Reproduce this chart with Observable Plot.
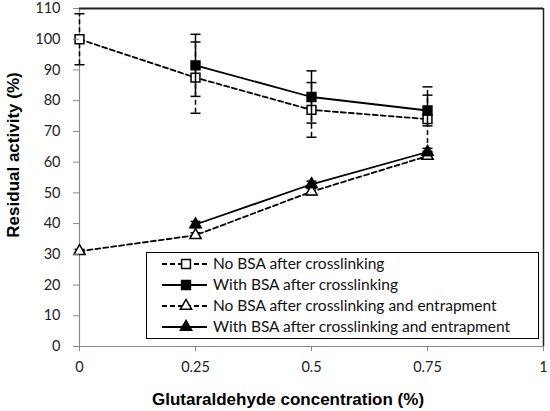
<!DOCTYPE html>
<html>
<head>
<meta charset="utf-8">
<script src="https://cdn.jsdelivr.net/npm/d3@7"></script>
<script src="https://cdn.jsdelivr.net/npm/@observablehq/plot@0.6"></script>
<style>
  body { margin: 0; background: white; }
  #wrap { position: relative; width: 550px; height: 411px; font-family: Lato, "Liberation Sans", sans-serif; }
  .title { position: absolute; font-family: "Liberation Sans", Arial, sans-serif; font-weight: bold; font-size: 17px; line-height: 1; color: #000; white-space: nowrap; }
  #legend { position: absolute; left: 146px; top: 252px; width: 391px; height: 85px; border: 1.5px solid #000; background: white; }
</style>
</head>
<body>
<div id="wrap">
  <div id="chart"></div>
  <div class="title" id="xtitle" style="left:152px; top:391px;">Glutaraldehyde concentration (%)</div>
  <div class="title" id="ytitle" style="left:13px; top:155px; transform: translate(-50%,-50%) rotate(-90deg);">Residual activity (%)</div>
  <svg id="legend"></svg>
</div>
<script>
// Data
const conc = [0, 0.25, 0.5, 0.75];
const noBsaCross = [100, 87.5, 77.0, 74.0];
const noBsaCrossErr = [8.3, 11.6, 8.9, 10.5];
const withBsaCross = [null, 91.5, 81.2, 76.8];
const withBsaCrossErr = [null, 10.1, 8.5, 5.0];
const noBsaEntrap = [31.0, 36.2, 50.4, 62.0];
const noBsaEntrapErr = [0.6, 0.8, 1.0, 1.0];
const withBsaEntrap = [null, 39.7, 52.8, 63.3];
const withBsaEntrapErr = [null, 1.0, 1.0, 1.2];
const yTicks = [0, 10, 20, 30, 40, 50, 60, 70, 80, 90, 100, 110];
const xTicks = [0, 0.25, 0.5, 0.75, 1];

const series = [
  {name: "No BSA after crosslinking", values: noBsaCross, err: noBsaCrossErr, symbol: "square", filled: false, dash: "5,3"},
  {name: "With BSA after crosslinking", values: withBsaCross, err: withBsaCrossErr, symbol: "square", filled: true, dash: null},
  {name: "No BSA after crosslinking and entrapment", values: noBsaEntrap, err: noBsaEntrapErr, symbol: "triangle", filled: false, dash: "5,3"},
  {name: "With BSA after crosslinking and entrapment", values: withBsaEntrap, err: withBsaEntrapErr, symbol: "triangle", filled: true, dash: null}
];

// long table
const rows = series.flatMap(s => conc.map((c, i) => ({
  series: s.name, x: c, y: s.values[i], e: s.err[i], s
})).filter(d => d.y != null));

// small horizontal cap for error bars
const cap = {draw(ctx, size) { const w = 5; ctx.moveTo(-w, 0); ctx.lineTo(w, 0); }};

const marks = [];
// axis lines and frame
marks.push(Plot.ruleX([0], {stroke: "#8a8a8a", strokeWidth: 1.2}));
marks.push(Plot.ruleY([0], {stroke: "#8a8a8a", strokeWidth: 1.2}));
marks.push(Plot.ruleY([110], {stroke: "#222", strokeWidth: 2.2}));
marks.push(Plot.ruleX([1], {stroke: "#222", strokeWidth: 1.5}));

for (const s of series) {
  const d = rows.filter(r => r.series === s.name);
  marks.push(Plot.ruleX(d, {x: "x", y1: r => r.y - r.e, y2: r => r.y + r.e, stroke: "#000", strokeWidth: 1.5, strokeDasharray: s.dash}));
  marks.push(Plot.dot(d, {x: "x", y: r => r.y - r.e, symbol: cap, stroke: "#000", strokeWidth: 1.5}));
  marks.push(Plot.dot(d, {x: "x", y: r => r.y + r.e, symbol: cap, stroke: "#000", strokeWidth: 1.5}));
  marks.push(Plot.line(d, {x: "x", y: "y", stroke: "#000", strokeWidth: 1.8, strokeDasharray: s.dash}));
  marks.push(Plot.dot(d, {x: "x", y: "y", symbol: s.symbol, r: s.symbol === "square" ? 5 : 4.2, stroke: "#000", strokeWidth: 1.5, fill: s.filled ? "#000" : "#fff"}));
}

marks.push(Plot.axisY({ticks: yTicks, tickSize: 6, tickPadding: 13, stroke: "#8a8a8a", fill: "#222", fontSize: 14.5, label: null}));
marks.push(Plot.axisX({ticks: xTicks, tickSize: 5, tickPadding: 10, stroke: "#8a8a8a", fill: "#222", fontSize: 14.5, label: null, tickFormat: d => String(d)}));

const chart = Plot.plot({
  width: 550,
  height: 411,
  marginLeft: 79,
  marginRight: 7,
  marginTop: 8,
  marginBottom: 65,
  style: {fontFamily: "Lato, 'Liberation Sans', sans-serif", fontSize: "14px", background: "white"},
  x: {domain: [0, 1]},
  y: {domain: [0, 110]},
  marks
});
document.getElementById("chart").append(chart);

// legend
const lg = d3.select("#legend");
const symbolPath = {square: d3.symbol(d3.symbolSquare, 78)(), triangle: d3.symbol(d3.symbolTriangle, 56)()};
series.forEach((s, i) => {
  const y = 11 + i * 21;
  const g = lg.append("g").attr("transform", `translate(0,${y})`);
  g.append("line").attr("x1", 15).attr("x2", 60).attr("y1", 0).attr("y2", 0)
    .attr("stroke", "#000").attr("stroke-width", 1.8).attr("stroke-dasharray", s.dash);
  g.append("path").attr("d", symbolPath[s.symbol]).attr("transform", "translate(39,0)")
    .attr("stroke", "#000").attr("stroke-width", 1.5).attr("fill", s.filled ? "#000" : "#fff");
  g.append("text").attr("x", 66).attr("y", 0).attr("dy", "0.35em")
    .attr("font-family", "Lato, 'Liberation Sans', sans-serif").attr("font-size", 15.5).attr("fill", "#111")
    .text(s.name);
});
</script>
</body>
</html>
